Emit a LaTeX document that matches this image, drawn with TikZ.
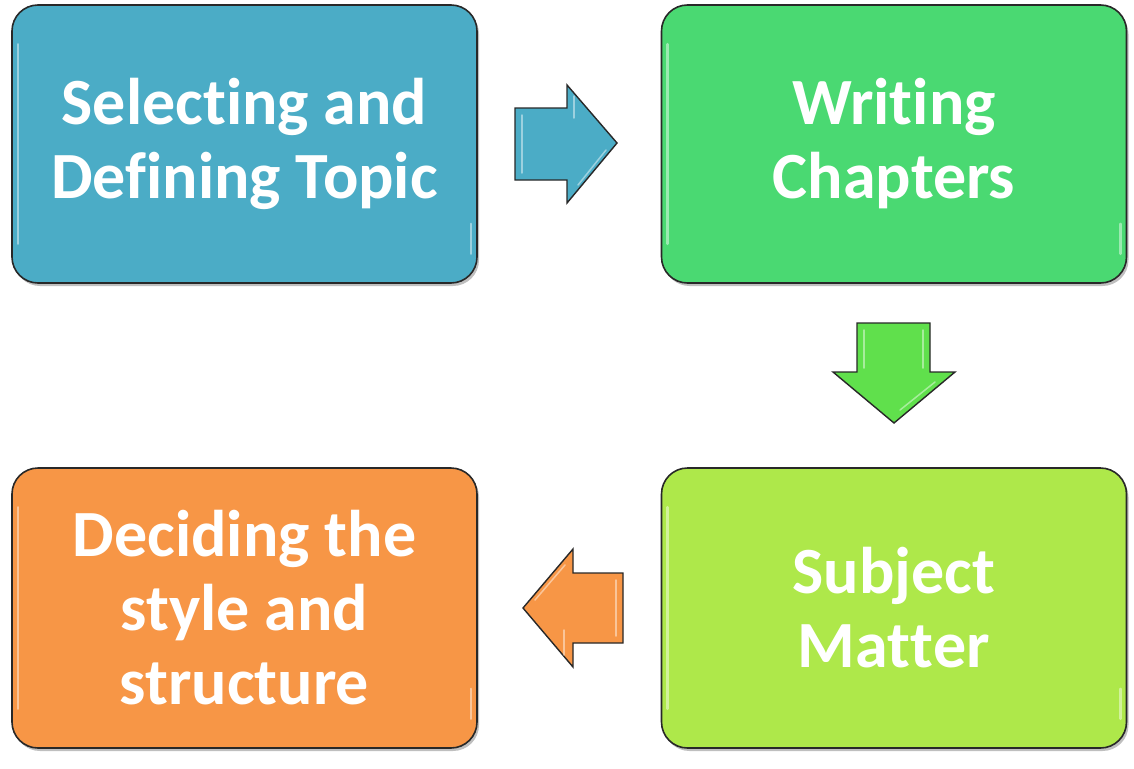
\documentclass[tikz,border=0pt]{standalone}
\usepackage{fontspec}
\setmainfont[RawFeature={-liga;-clig;-calt;-dlig}]{Carlito}
\usetikzlibrary{shadows}
\newcommand{\nolig}{\kern0pt{}}
\definecolor{cblue}{RGB}{75,172,198}
\definecolor{cgreen}{RGB}{74,217,114}
\definecolor{clime}{RGB}{174,232,74}
\definecolor{corange}{RGB}{247,150,70}
\definecolor{cdgreen}{RGB}{96,224,76}
\definecolor{cedge}{RGB}{40,40,40}
\tikzset{
  box/.style={draw=cedge, line width=1.6pt, rounded corners=26pt, minimum width=465pt, minimum height=278pt,
    text=white, font=\bfseries\fontsize{66}{74}\selectfont, align=center,
    drop shadow={shadow xshift=2pt, shadow yshift=-3pt, opacity=0.25, fill=black}},
  blockarrow/.style={draw=cedge, line width=1.4pt, line join=miter},
  gloss/.style={draw=white, line width=2.5pt, opacity=0.45, line cap=round},
  agloss/.style={draw=white, opacity=0.45, line width=1.5pt, line cap=round},
}
\begin{document}
\begin{tikzpicture}[x=1pt,y=-1pt]
\useasboundingbox (0,0) rectangle (1134,768);
% boxes
\node[box, fill=cblue] (b1) at (244.5,144) {Select\nolig ing and\\Defining Topic};
\node[box, fill=cgreen] (b2) at (894,144) {Writ\nolig ing\\Chapters};
\node[box, fill=clime, minimum height=280pt] (b3) at (894,608) {Subject\\Mat\nolig t\nolig er};
\node[box, fill=corange, minimum height=280pt] (b4) at (244.5,608) {Deciding the\\style and\\structure};
% gloss highlights on left edge and lower right corner
\foreach \n in {b1,b2,b3,b4}{
  \draw[gloss] ([shift={(7pt,-40pt)}]\n.north west) -- ([shift={(7pt,40pt)}]\n.south west);
  \draw[gloss] ([shift={(-7pt,60pt)}]\n.south east) -- ([shift={(-7pt,30pt)}]\n.south east);
}
% right arrow
\draw[blockarrow, fill=cblue] (515,108) coordinate (a1s) -- (567,108) -- (567,85) -- (617,143) coordinate (a1t) -- (567,203) -- (567,180) -- (515,180) -- cycle;
% down arrow
\draw[blockarrow, fill=cdgreen] (857,323) coordinate (a2s) -- (930,323) -- (930,372) -- (955,372) -- (894,423) coordinate (a2t) -- (833,372) -- (857,372) -- cycle;
% left arrow
\draw[blockarrow, fill=corange] (623,573) coordinate (a3s) -- (623,643) -- (573,643) -- (573,667) -- (523,608) coordinate (a3t) -- (573,549) -- (573,573) -- cycle;
% arrow gloss
\draw[agloss] (522,115) -- (522,173);
\draw[agloss] (574,96) -- (574,118);
\draw[agloss] (606,150) -- (578,185);
\draw[agloss] (864,330) -- (864,368);
\draw[agloss] (923,330) -- (923,368);
\draw[agloss] (900,410) -- (935,382);
\draw[agloss] (616,580) -- (616,636);
\draw[agloss] (535,600) -- (565,565);
\draw[agloss] (564,630) -- (564,655);
\end{tikzpicture}
\end{document}
